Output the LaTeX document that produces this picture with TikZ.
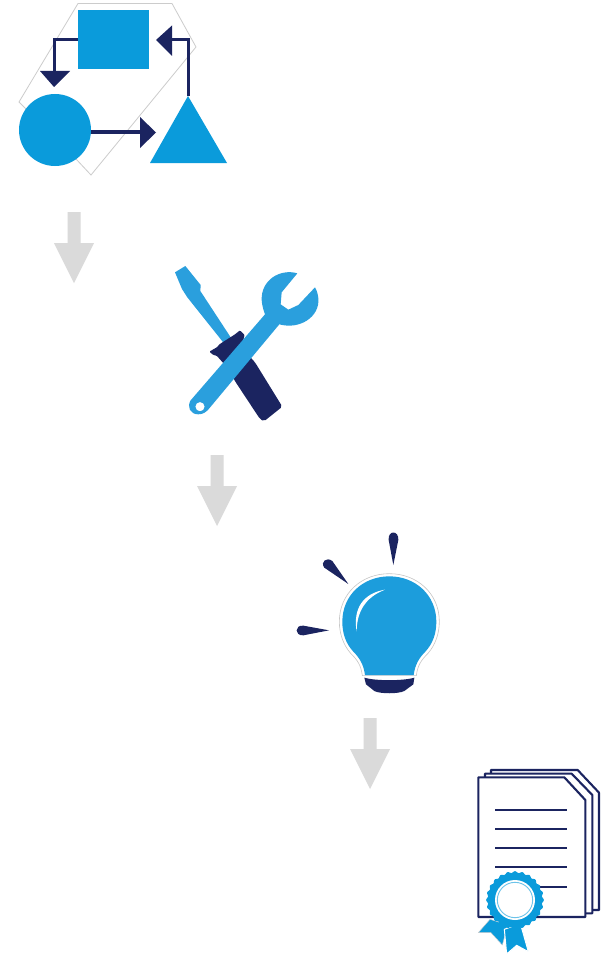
\documentclass[tikz,border=0pt]{standalone}
\definecolor{bl}{HTML}{0A9BDB}
\definecolor{wr}{HTML}{2A9FDD}
\definecolor{bb}{HTML}{1C9DDC}
\definecolor{nv}{HTML}{1B2460}
\definecolor{gr}{HTML}{DADADA}
\tikzset{
 zoomed/.style={scale=1/3},
 flowline/.style={draw=nv,line width=3pt},
 tipfill/.style={fill=nv,draw=none},
 shapefill/.style={fill=bl,draw=none},
 grarrow/.style={fill=gr,draw=none},
 ray/.style={fill=nv,draw=none},
 pageline/.style={draw=nv,line width=2.2pt},
 pagefill/.style={draw=nv,line width=2.1pt,fill=white,line join=round},
}
\begin{document}
\begin{tikzpicture}[x=1pt,y=-1pt]
\useasboundingbox (0,0) rectangle (600,955);
\fill[white] (0,0) rectangle (600,955);
% ---- flow icon
\draw[gray!40,line width=0.8pt,fill=white] (78,3.5)--(172,3.5)--(196,47)--(91,175)--(76,159)--(19,102)--cycle;
\fill[shapefill] (78,10) rectangle (149,69);
\fill[shapefill] (55,130) circle (36);
\fill[shapefill] (188,96)--(227,163)--(150,163)--cycle;
\draw[flowline] (78,40)--(54,40)--(54,72);
\fill[tipfill] (40,71)--(70,71)--(54,87)--cycle;
\draw[flowline] (188,96)--(188,40)--(170,40);
\fill[tipfill] (156,40)--(172,25.5)--(172,56)--cycle;
\draw[flowline] (91,132)--(141,132);
\fill[tipfill] (140,117)--(156,132.5)--(140,148)--cycle;
% ---- grey arrows
\foreach \px/\py in {74/212,217/455,370/718}{
 \fill[grarrow,shift={(\px,\py)}] (-6.5,0)--(6.5,0)--(6.5,31)--(20,31)--(0,71)--(-20,31)--(-6.5,31)--cycle;
}
% ---- tools
\begin{scope}[shift={(160,255)},zoomed]
 \fill[wr] (45,52)--(76,33)--(122,90)--(121,108)--(214,250)--(192,265)--(82,127)--(66,102)--cycle;
 \fill[nv,rounded corners=2pt] (215,360)--(265,300)--(285,322)--(367,455)--(312,499)--(300,492)--(226,380)--cycle;
 \fill[nv,rounded corners=1pt] (148,290)--(172,276)--(178,268)--(225,238)--(240,226)--(254,240)--(240,290)--(195,330)--(170,302)--(160,300)--cycle;
 \fill[wr,even odd rule] (412,55) .. controls (360,40) and (303,75) .. (305,135)
   .. controls (306,150) and (310,165) .. (315,178)
   -- (92,436) .. controls (80,455) and (90,478) .. (115,478)
   .. controls (130,478) and (140,470) .. (148,460)
   -- (358,208) .. controls (420,225) and (480,185) .. (475,130)
   .. controls (474,118) and (470,105) .. (465,97)
   -- (415,150) -- (385,164) -- (362,148) -- (365,112) -- cycle
   (120,455) circle (14);
\end{scope}
% ---- bulb
\begin{scope}[shift={(285,525)},zoomed]
 \path[fill=white,draw=gray!45,line width=0.6pt] (232,452) .. controls (228,420) and (217,405) .. (197,385)
   .. controls (175,360) and (163,325) .. (163,290)
   .. controls (163,205) and (230,146) .. (313,146)
   .. controls (396,146) and (463,205) .. (463,290)
   .. controls (463,325) and (451,360) .. (429,385)
   .. controls (409,405) and (398,420) .. (394,452) -- cycle;
 \fill[bb] (240,450) .. controls (236,420) and (225,400) .. (205,380)
   .. controls (182,355) and (172,325) .. (172,290)
   .. controls (172,210) and (235,154) .. (313,154)
   .. controls (391,154) and (454,210) .. (454,290)
   .. controls (454,325) and (444,355) .. (421,380)
   .. controls (401,400) and (390,420) .. (386,450) -- cycle;
 \fill[white] (300,194) .. controls (235,205) and (203,250) .. (215,320) .. controls (215,262) and (240,217) .. (300,194) -- cycle;
 \fill[nv] (238,458) .. controls (270,468) and (355,468) .. (388,458) -- (385,478) -- (358,498) .. controls (340,507) and (285,507) .. (268,498) -- (243,478) -- cycle;
 \fill[ray] (325,120) -- (311,45) .. controls (308,15) and (342,15) .. (340,45) -- cycle;
 \fill[ray] (190,177) -- (118,128) .. controls (105,110) and (125,95) .. (142,108) -- cycle;
 \fill[ray] (132,316) -- (55,331) .. controls (28,332) and (28,300) .. (55,302) -- cycle;
\end{scope}
% ---- certificate
\begin{scope}[shift={(465,760)},zoomed]
 \draw[pagefill] (78,30)--(338,30)--(402,98)--(402,450)--(78,450)--cycle;
 \draw[pagefill] (60,41)--(320,41)--(382,105)--(382,460)--(60,460)--cycle;
 \draw[pagefill] (40,52)--(298,52)--(361,120)--(361,471)--(40,471)--cycle;
 \foreach \yy in {150,207,264,322,380}{\draw[pageline] (90,\yy)--(307,\yy);}
 \fill[bl,draw=gray!40,line width=0.4pt] (75,478)--(40,518)--(78,518)--(112,555)--(128,495)--cycle;
 \fill[bl,draw=white,line width=1pt] (118,508)--(125,582)--(155,556)--(190,575)--(166,490)--cycle;
 \fill[bl] plot[domain=0:360,samples=240,smooth] ({150+(84+2.5*cos(24*\x))*cos(\x)},{420+(84+2.5*cos(24*\x))*sin(\x)}) -- cycle;
 \fill[white] (150,420) circle (60);
 \draw[bl!60,line width=0.9pt] (150,420) circle (53);
\end{scope}
\end{tikzpicture}
\end{document}
